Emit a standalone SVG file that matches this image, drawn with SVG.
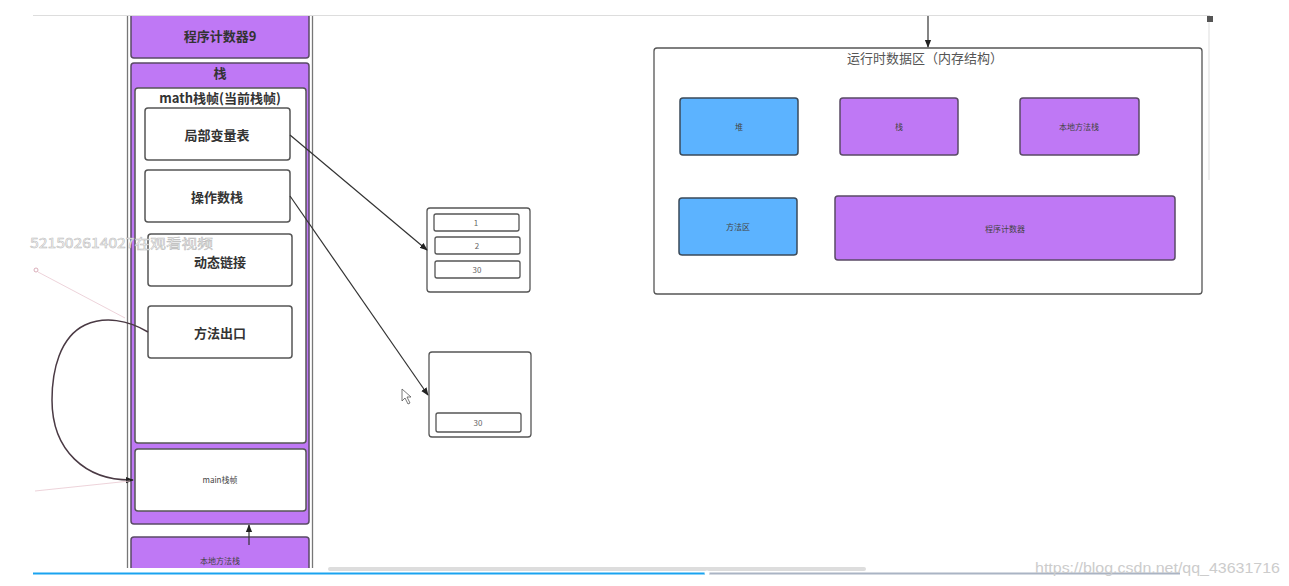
<svg xmlns="http://www.w3.org/2000/svg" width="1289" height="586" viewBox="0 0 1289 586">
<style>
.p{fill:#bf78f5;stroke:#5a4a66;stroke-width:1.5}
.b{fill:#5cb3ff;stroke:#3a4a5a;stroke-width:1.5}
.w{fill:#fff;stroke:#555;stroke-width:1.5}
.c{fill:#fff;stroke:#555;stroke-width:1.3}
.t{font-family:"Noto Sans CJK SC","Noto Sans",sans-serif;text-anchor:middle;dominant-baseline:central}
.bold{font-weight:bold;font-size:13px;fill:#333}
.s{font-size:8px;fill:#444}
.n{font-size:8px;fill:#666}
.con{stroke:#333;stroke-width:1.2;fill:none}
</style>
<defs>
<marker id="ar" viewBox="0 0 10 10" refX="9" refY="5" markerWidth="8" markerHeight="8" orient="auto-start-reverse" markerUnits="userSpaceOnUse"><path d="M0,1 L10,5 L0,9 z" fill="#222"/></marker>
<clipPath id="cv"><rect x="0" y="16" width="1289" height="552"/></clipPath>
</defs>
<rect width="1289" height="586" fill="#fff"/>
<line x1="33" y1="15.5" x2="1210" y2="15.5" stroke="#ddd" stroke-width="1"/>
<g clip-path="url(#cv)">
<line x1="127.5" y1="15" x2="127.5" y2="570" stroke="#777" stroke-width="1.3"/>
<line x1="312.5" y1="15" x2="312.5" y2="570" stroke="#777" stroke-width="1.3"/>
<line x1="1209" y1="18" x2="1209" y2="180" stroke="#ddd"/>
<rect x="1207" y="16" width="6" height="6" fill="#555"/>

<g id="pc9"><rect class="p" x="131" y="10" width="178" height="48" rx="3"/><text class="t bold" x="220" y="35">程序计数器9</text></g>
<g id="stack"><rect class="p" x="131" y="63" width="178" height="461" rx="3"/><text class="t bold" x="220" y="72">栈</text></g>
<g id="math"><rect class="w" x="135" y="88" width="171" height="355" rx="3"/><text class="t bold" x="220" y="97">math栈帧(当前栈帧)</text></g>
<g id="locals"><rect class="w" x="145" y="108" width="145" height="52" rx="3"/><text class="t bold" x="217" y="134">局部变量表</text></g>
<g id="opstack"><rect class="w" x="145" y="170" width="145" height="52" rx="3"/><text class="t bold" x="217" y="196">操作数栈</text></g>
<g id="dynlink"><rect class="w" x="148" y="234" width="144" height="52" rx="3"/><text class="t bold" x="220" y="261">动态链接</text></g>
<g id="exit"><rect class="w" x="148" y="306" width="144" height="52" rx="3"/><text class="t bold" x="220" y="332">方法出口</text></g>
<g id="main"><rect class="w" x="135" y="449" width="171" height="62" rx="3"/><text class="t s" x="220" y="479">main栈帧</text></g>
<g id="native"><rect class="p" x="131" y="537" width="178" height="40" rx="3"/><text class="t s" x="220" y="560">本地方法栈</text></g>

<g id="boxA"><rect class="c" x="427" y="208" width="103" height="84" rx="3"/>
<rect class="c" x="434" y="214" width="85" height="17" rx="2"/><text class="t n" x="476" y="222.5" fill="#6a8fb0">1</text>
<rect class="c" x="435" y="237" width="85" height="17" rx="2"/><text class="t n" x="477" y="245.5">2</text>
<rect class="c" x="435" y="261" width="85" height="17" rx="2"/><text class="t n" x="477" y="269.5">30</text></g>
<g id="boxB"><rect class="c" x="429" y="352" width="102" height="85" rx="3"/>
<rect class="c" x="436" y="413" width="85" height="19" rx="2"/><text class="t n" x="478" y="422.5">30</text></g>

<g id="runtime"><rect fill="#fff" stroke="#555" stroke-width="1.3" x="654" y="48" width="548" height="246" rx="3"/>
<text class="t" x="925" y="57" font-size="13" fill="#555">运行时数据区（内存结构）</text></g>
<g id="heap"><rect class="b" x="680" y="98" width="118" height="57" rx="3"/><text class="t s" x="739" y="126">堆</text></g>
<g id="stack2"><rect class="p" x="840" y="98" width="118" height="57" rx="3"/><text class="t s" x="899" y="126">栈</text></g>
<g id="native2"><rect class="p" x="1020" y="98" width="119" height="57" rx="3"/><text class="t s" x="1079" y="126">本地方法栈</text></g>
<g id="method"><rect class="b" x="679" y="198" width="118" height="57" rx="3"/><text class="t s" x="738" y="226">方法区</text></g>
<g id="pc"><rect class="p" x="835" y="196" width="340" height="64" rx="3"/><text class="t s" x="1005" y="228">程序计数器</text></g>

<g id="connectors">
<line class="con" x1="290" y1="135" x2="427" y2="250" marker-end="url(#ar)"/>
<line class="con" x1="290" y1="196" x2="428" y2="395" marker-end="url(#ar)"/>
<line class="con" x1="249" y1="545" x2="249" y2="525" marker-end="url(#ar)"/>
<line class="con" x1="928" y1="15" x2="928" y2="47" marker-end="url(#ar)"/>
<path d="M148,332 C128,320 105,316 85,325 C60,337 52,370 52,400 C52,450 85,481 133,480" stroke="#4a3a44" stroke-width="1.5" fill="none" marker-end="url(#ar)"/>
<line x1="38" y1="272" x2="125" y2="318" stroke="#e8c8d0" stroke-width="0.8"/>
<circle cx="36" cy="270" r="2" fill="none" stroke="#d09aa8" stroke-width="0.8"/>
<line x1="35" y1="491" x2="130" y2="481" stroke="#e8c8d0" stroke-width="0.8"/>
</g>

<path d="M402,389 L402,401 L405,398 L408,404 L410,403 L407,397 L411,397 Z" fill="#fff" stroke="#555" stroke-width="0.8"/>
<text x="30" y="248" font-family="Noto Sans CJK SC,sans-serif" font-size="13" textLength="183" lengthAdjust="spacingAndGlyphs" fill="#fff" stroke="#b8b8b8" stroke-width="0.5">521502614027在观看视频</text>
</g>
<rect x="328" y="567" width="538" height="4" rx="2" fill="#ddd"/>
<line x1="33" y1="573.5" x2="706" y2="573.5" stroke="#1aa3f0" stroke-width="2"/>
<line x1="706" y1="573.5" x2="1180" y2="573.5" stroke="#aab4c4" stroke-width="2"/>
<circle cx="707" cy="573" r="2.5" fill="#fff"/>
<text x="1035" y="573" font-family="Liberation Sans,sans-serif" font-size="15" textLength="245" lengthAdjust="spacingAndGlyphs" fill="#ccc">https://blog.csdn.net/qq_43631716</text>
</svg>
